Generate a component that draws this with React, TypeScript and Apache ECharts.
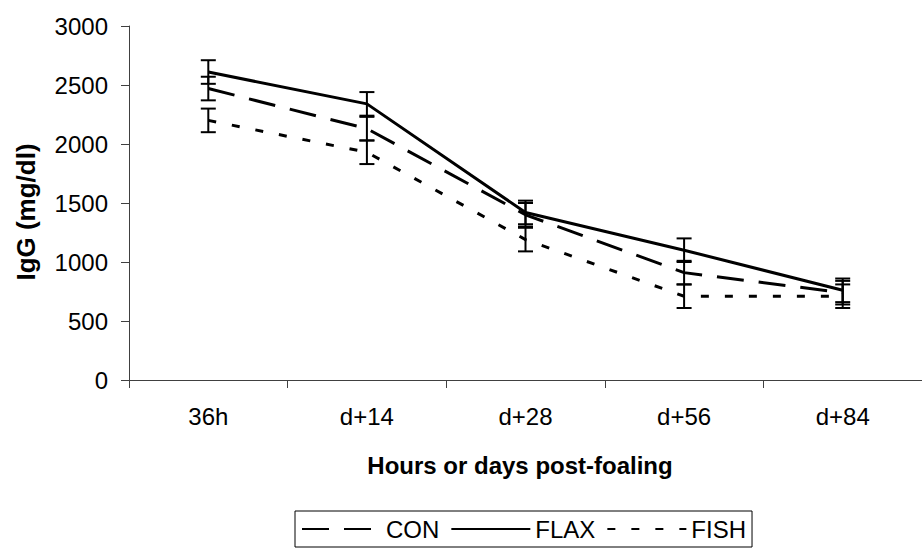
import React, { useEffect, useRef } from 'react';
import * as echarts from 'echarts';

const categories = ['36h', 'd+14', 'd+28', 'd+56', 'd+84'];
const seriesNames = ['CON', 'FLAX', 'FISH'];
const conValues = [2470, 2130, 1400, 910, 740];
const flaxValues = [2610, 2340, 1420, 1100, 760];
const fishValues = [2200, 1930, 1190, 710, 710];
const conErr = [100, 100, 100, 100, 100];
const flaxErr = [100, 100, 100, 100, 100];
const fishErr = [100, 100, 100, 100, 100];
const yMin = 0;
const yMax = 3000;
const yStep = 500;

const FONT = '"Liberation Sans", Arial, sans-serif';

function errorSeries(name: string, values: number[], errs: number[]) {
  return {
    type: 'custom',
    name: name + ' SE',
    data: values.map((v, i) => [i, v - errs[i], v + errs[i]]),
    encode: { x: 0, y: [1, 2] },
    silent: true,
    z: 4,
    renderItem: (params: any, api: any) => {
      const x = api.value(0);
      const lo = api.coord([x, api.value(1)]);
      const hi = api.coord([x, api.value(2)]);
      const hw = 7.5;
      const style = { stroke: '#000', lineWidth: 2 };
      return {
        type: 'group',
        children: [
          { type: 'line', shape: { x1: hi[0], y1: hi[1], x2: lo[0], y2: lo[1] }, style },
          { type: 'line', shape: { x1: hi[0] - hw, y1: hi[1], x2: hi[0] + hw, y2: hi[1] }, style },
          { type: 'line', shape: { x1: lo[0] - hw, y1: lo[1], x2: lo[0] + hw, y2: lo[1] }, style },
        ],
      };
    },
  };
}

export default function App() {
  const ref = useRef<HTMLDivElement>(null);
  useEffect(() => {
    if (!ref.current) return;
    const chart = echarts.init(ref.current, undefined, { renderer: 'svg' });
    const lineBase = { type: 'line', symbol: 'none', z: 3 };
    chart.setOption({
      animation: false,
      backgroundColor: '#fff',
      grid: { left: 129, top: 26, width: 798, height: 354, containLabel: false },
      xAxis: {
        type: 'category',
        data: categories,
        boundaryGap: true,
        axisLine: { lineStyle: { color: '#404040', width: 1 } },
        axisTick: { show: true, length: 8, lineStyle: { color: '#404040' } },
        axisLabel: { color: '#000', fontSize: 24, fontFamily: FONT, margin: 24 },
      },
      yAxis: {
        type: 'value',
        min: yMin,
        max: yMax,
        interval: yStep,
        splitLine: { show: false },
        axisLine: { show: true, lineStyle: { color: '#404040', width: 1 } },
        axisTick: { show: true, length: 8, lineStyle: { color: '#404040' } },
        axisLabel: {
          color: '#000',
          fontSize: 24,
          fontFamily: FONT,
          margin: 21,
          formatter: (v: number) => String(v),
        },
      },
      legend: {
        data: seriesNames,
        left: 295,
        top: 511,
        orient: 'horizontal',
        itemWidth: 79,
        itemHeight: 14,
        itemGap: 11,
        padding: [6, 6, 6, 6],
        borderColor: '#000',
        borderWidth: 1,
        itemStyle: { opacity: 0 },
        textStyle: { color: '#000', fontSize: 24, fontFamily: FONT },
      },
      graphic: [
        {
          type: 'text',
          x: 26,
          y: 212,
          rotation: Math.PI / 2,
          style: {
            text: 'IgG (mg/dl)',
            font: 'bold 26px ' + FONT,
            fill: '#000',
            align: 'center',
            verticalAlign: 'middle',
          },
        },
        {
          type: 'text',
          x: 520,
          y: 465,
          style: {
            text: 'Hours or days post-foaling',
            font: 'bold 24px ' + FONT,
            fill: '#000',
            align: 'center',
            verticalAlign: 'middle',
          },
        },
      ],
      series: [
        { ...lineBase, name: 'CON', data: conValues, lineStyle: { color: '#000', width: 3, type: [27, 15] }, itemStyle: { color: '#000' } },
        { ...lineBase, name: 'FLAX', data: flaxValues, lineStyle: { color: '#000', width: 3, type: 'solid' }, itemStyle: { color: '#000' } },
        { ...lineBase, name: 'FISH', data: fishValues, lineStyle: { color: '#000', width: 3, type: [8, 16] }, itemStyle: { color: '#000' } },
        errorSeries('CON', conValues, conErr),
        errorSeries('FLAX', flaxValues, flaxErr),
        errorSeries('FISH', fishValues, fishErr),
      ],
    });
    return () => chart.dispose();
  }, []);
  return <div ref={ref} style={{ position: 'fixed', left: 0, top: 0, width: 922, height: 554 }} />;
}
